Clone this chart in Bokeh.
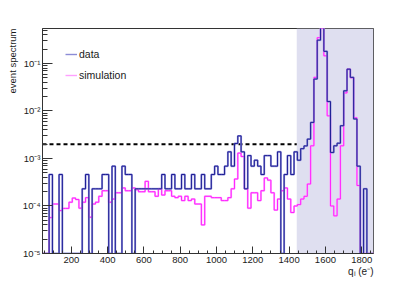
import numpy as np
from bokeh.plotting import figure
from bokeh.models import (Range1d, FixedTicker, CustomJSTickFormatter, Title,
                          Legend, LegendItem, BoxAnnotation)
from bokeh.embed import file_html
from bokeh.resources import INLINE

# ---- binning of the charge spectrum (e-) ----
x_min = 41.0
x_max = 1865.0
n_bins = 100

# ---- bin contents (normalised event spectrum) ----
data_values = [
    0, 0, 4.6e-4, 0, 0, 4.6e-4, 0, 0, 0, 0,
    0, 0, 2.3e-4, 4.6e-4, 0, 2.3e-4, 2.3e-4, 2.3e-4, 4.6e-4, 4.6e-4,
    0, 6.9e-4, 0, 0, 6.9e-4, 4.6e-4, 4.6e-4, 0, 2.3e-4, 2.3e-4,
    2.3e-4, 2.3e-4, 2.3e-4, 2.3e-4, 2.3e-4, 2.3e-4, 4.6e-4, 2.3e-4, 2.3e-4, 4.6e-4,
    2.3e-4, 2.3e-4, 4.6e-4, 2.3e-4, 2.3e-4, 4.6e-4, 2.3e-4, 2.3e-4, 4.6e-4, 2.3e-4,
    2.3e-4, 4.6e-4, 6.9e-4, 4.6e-4, 4.6e-4, 6.9e-4, 1.38e-3, 6.9e-4, 2.07e-3, 2.99e-3,
    1.38e-3, 2.3e-4, 1.15e-3, 6.9e-4, 9.2e-4, 6.9e-4, 4.6e-4, 1.15e-3, 1.15e-3, 6.9e-4,
    6.9e-4, 1.38e-3, 0, 4.6e-4, 1.15e-3, 4.6e-4, 1.38e-3, 9.2e-4, 1.61e-3, 1.84e-3,
    2.56e-3, 5.75e-3, 0.047, 0.31, 0.60, 0.18, 0.0158, 1.34e-3, 1.85e-3, 2.1e-3,
    4.9e-3, 0.0266, 0.076, 0.051, 6.8e-3, 6.9e-4, 0, 2.3e-4, 0, 0,
]

sim_values = [
    0, 0, 5.7e-5, 1.1e-4, 1.1e-4, 8.0e-5, 8.9e-5, 8.9e-5, 1.2e-4, 1.47e-4,
    1.37e-4, 9.0e-5, 1.2e-4, 1.5e-4, 5.8e-5, 1.1e-4, 1.2e-4, 1.6e-4, 2.1e-4, 2.1e-4,
    1.2e-4, 1.4e-4, 1.9e-4, 1.9e-4, 2.4e-4, 2.1e-4, 2.1e-4, 2.4e-4, 2.2e-4, 2.0e-4,
    2.0e-4, 3.3e-4, 2.0e-4, 2.0e-4, 1.6e-4, 2.3e-4, 1.7e-4, 2.1e-4, 2.1e-4, 1.6e-4,
    1.5e-4, 1.6e-4, 1.3e-4, 1.6e-4, 1.3e-4, 1.4e-4, 1.1e-4, 1.1e-4, 4.0e-5, 1.6e-4,
    1.6e-4, 1.5e-4, 1.5e-4, 1.5e-4, 1.3e-4, 1.3e-4, 1.5e-4, 2.3e-4, 3.7e-4, 1.3e-3,
    1.1e-3, 2.3e-4, 9.0e-5, 1.9e-4, 1.9e-4, 1.3e-4, 2.1e-4, 3.9e-4, 3.5e-4, 1.9e-4,
    8.2e-5, 1.4e-4, 2.1e-4, 2.4e-4, 1.4e-4, 7.3e-5, 1.0e-4, 1.07e-4, 1.4e-4, 1.6e-4,
    2.9e-4, 1.85e-3, 0.051, 0.35, 0.55, 0.145, 7.9e-3, 1.0e-4, 6.2e-5, 1.4e-4,
    1.85e-3, 0.024, 0.076, 0.05, 7.2e-3, 2.7e-4, 0, 0, 0, 0,
]

threshold_level = 2.0e-3     # dashed line
region_start = 1442.0        # start of shaded region (e-)

y_min = 1e-5
y_max = 0.545

x_ticks = [200, 400, 600, 800, 1000, 1200, 1400, 1600, 1800]
y_ticks = [1e-5, 1e-4, 1e-3, 1e-2, 1e-1]

x_minor_ticks = [v for v in range(50, 1851, 50) if v % 200 != 0]
y_minor_ticks = [m * 10.0 ** e for e in range(-5, 0) for m in range(2, 10) if m * 10.0 ** e <= y_max]

FONT = "Liberation Sans"
TXT = "#1a1a1a"
DATA_CORE, DATA_HALO = "#1f1f96", "#8c8cd6"
SIM_CORE, SIM_HALO = "#ff22ff", "#ffa0ff"

p = figure(width=415, height=281, output_backend="svg", toolbar_location=None,
           y_axis_type="log",
           x_range=Range1d(x_min, x_max), y_range=Range1d(y_min, y_max),
           min_border_left=42, min_border_right=42, min_border_top=28, min_border_bottom=28)
p.grid.visible = False
p.outline_line_color = "#333333"
p.outline_line_width = 1
p.background_fill_color = "white"
p.border_fill_color = "white"

# shaded region
p.add_layout(BoxAnnotation(left=region_start, fill_color="#dfdff0", fill_alpha=1.0,
                           line_alpha=0, level="underlay"))

# dashed threshold line
p.line(x=[x_min, region_start], y=[threshold_level, threshold_level],
       line_color="black", line_width=2, line_dash="4 3")

edges = np.linspace(x_min, x_max, n_bins + 1)

def step_outline(values):
    v = np.maximum(np.asarray(values, dtype=float), y_min)
    xs = np.repeat(edges, 2)[1:-1]
    ys = np.repeat(v, 2)
    return xs, ys

sx, sy = step_outline(sim_values)
dx, dy = step_outline(data_values)

# thin light lines (hidden under the histograms, used for the legend swatches)
s_leg = p.line(sx, sy, line_color=SIM_HALO, line_width=1.4)
d_leg = p.line(dx, dy, line_color=DATA_HALO, line_width=1.4)

p.line(sx, sy, line_color=SIM_HALO, line_width=2.0, line_alpha=0.65)
p.line(sx, sy, line_color=SIM_CORE, line_width=1.0)

p.line(dx, dy, line_color=DATA_HALO, line_width=2.0, line_alpha=0.65)
p.line(dx, dy, line_color=DATA_CORE, line_width=1.0)

# axes
xa = p.xaxis[0]
xa.ticker = FixedTicker(ticks=x_ticks, minor_ticks=x_minor_ticks)
xa.major_tick_in = 7
xa.major_tick_out = 0
xa.minor_tick_in = 3
xa.minor_tick_out = 0
xa.axis_line_color = "#333333"
xa.major_tick_line_color = "#333333"
xa.minor_tick_line_color = "#333333"
xa.major_label_text_font = FONT
xa.major_label_text_font_size = "9.5px"
xa.major_label_text_color = TXT
xa.major_label_standoff = 3

ya = p.yaxis[0]
ya.ticker = FixedTicker(ticks=y_ticks, minor_ticks=y_minor_ticks)
ya.formatter = CustomJSTickFormatter(code="""
const e = Math.round(Math.log10(tick));
const m = {"-": "\u207b", "0": "\u2070", "1": "\u00b9", "2": "\u00b2", "3": "\u00b3",
           "4": "\u2074", "5": "\u2075", "6": "\u2076", "7": "\u2077", "8": "\u2078", "9": "\u2079"};
return "10" + String(e).split("").map(c => m[c]).join("");
""")
ya.major_tick_in = 10
ya.major_tick_out = 0
ya.minor_tick_in = 5
ya.minor_tick_out = 0
ya.axis_line_color = "#333333"
ya.major_tick_line_color = "#333333"
ya.minor_tick_line_color = "#333333"
ya.major_label_text_font = FONT
ya.major_label_text_font_size = "9.5px"
ya.major_label_text_color = TXT
ya.major_label_standoff = 2

# axis titles as side-panel titles
p.add_layout(Title(text="event spectrum", align="right", offset=0, standoff=4,
                   text_font=FONT, text_font_size="9.5px", text_font_style="normal",
                   text_color=TXT), "left")
p.add_layout(Title(text="q\u2097 (e\u207b)", align="right", offset=0, standoff=0,
                   vertical_align="top",
                   text_font=FONT, text_font_size="10px", text_font_style="normal",
                   text_color=TXT), "below")

legend = Legend(items=[LegendItem(label="data", renderers=[d_leg]),
                       LegendItem(label="simulation", renderers=[s_leg])],
                location=(23, 168), glyph_width=12, glyph_height=20, label_height=20,
                spacing=1, padding=0, margin=0, label_standoff=2,
                border_line_alpha=0, background_fill_alpha=0,
                label_text_font=FONT, label_text_font_size="10.5px", label_text_color=TXT)
p.add_layout(legend, "center")

open("out.html", "w").write(file_html(p, INLINE))
